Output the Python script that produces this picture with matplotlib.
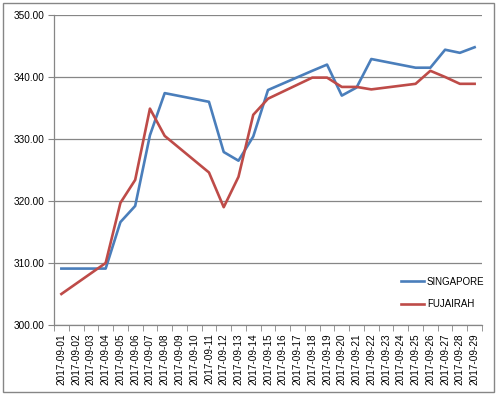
import numpy as np
import matplotlib
matplotlib.use('Agg')
import matplotlib.pyplot as plt
from matplotlib.patches import Rectangle

# all calendar dates on the category axis
dates = ['2017-09-%02d' % d for d in range(1, 30)]

# trading days (weekends have no quote, line just connects across)
sgp_dates = ['2017-09-01', '2017-09-04', '2017-09-05', '2017-09-06', '2017-09-07',
             '2017-09-08', '2017-09-11', '2017-09-12', '2017-09-13', '2017-09-14',
             '2017-09-15', '2017-09-18', '2017-09-19', '2017-09-20', '2017-09-21',
             '2017-09-22', '2017-09-25', '2017-09-26', '2017-09-27', '2017-09-28',
             '2017-09-29']
sgp_vals = [309.1, 309.1, 316.6, 319.2, 330.6, 337.4, 336.0, 327.9, 326.5, 330.4,
            337.9, 341.0, 342.0, 337.0, 338.3, 342.9, 341.5, 341.5, 344.4, 343.9,
            344.8]

fuj_dates = sgp_dates
fuj_vals = [305.0, 310.0, 319.7, 323.4, 334.9, 330.5, 324.6, 319.0, 323.9, 333.9,
            336.5, 339.9, 339.9, 338.4, 338.4, 338.0, 338.9, 341.0, 340.0, 338.9,
            338.9]

plt.rcParams['font.family'] = ['Liberation Sans', 'DejaVu Sans']

fig = plt.figure(figsize=(4.98, 3.96), dpi=100)
ax = fig.add_axes([54/498, 71/396, 428/498, 310/396])

# outer chart border
fig.patches.append(Rectangle((3/498, 4/396), 491/498, 389/396, transform=fig.transFigure,
                             fill=False, edgecolor='#868686', linewidth=1.0))

x_all = {d: i for i, d in enumerate(dates)}
ax.plot([x_all[d] for d in sgp_dates], sgp_vals, color='#4A7EBB', lw=1.9,
        label='SINGAPORE', solid_joinstyle='round')
ax.plot([x_all[d] for d in fuj_dates], fuj_vals, color='#BE4B48', lw=1.9,
        label='FUJAIRAH', solid_joinstyle='round')

ax.set_xlim(-0.5, len(dates) - 0.5)
ax.set_ylim(300, 350)
ax.set_yticks(np.arange(300, 351, 10))
ax.set_yticklabels(['%.2f' % v for v in np.arange(300, 351, 10)])
ax.yaxis.grid(True, color='#868686', lw=0.9)
ax.set_axisbelow(True)

ax.set_xticks(np.arange(len(dates)))
ax.set_xticklabels(dates, rotation=90, fontsize=7.2)
ax.set_xticks(np.arange(len(dates) + 1) - 0.5, minor=True)
ax.tick_params(axis='x', which='major', length=0, pad=6)
ax.tick_params(axis='x', which='minor', length=4, color='#868686', direction='out')
ax.tick_params(axis='y', length=4, color='#868686', labelsize=7.2, pad=3)

for s in ['top', 'right']:
    ax.spines[s].set_visible(False)
for s in ['left', 'bottom']:
    ax.spines[s].set_color('#868686')
    ax.spines[s].set_linewidth(0.9)

ax.legend(loc='upper left', bbox_to_anchor=(392/498, 1 - 268/396),
          bbox_transform=fig.transFigure, frameon=False, fontsize=7,
          handlelength=2.4, handletextpad=0.3, labelspacing=1.3)

fig.savefig('out.png', dpi=100)
